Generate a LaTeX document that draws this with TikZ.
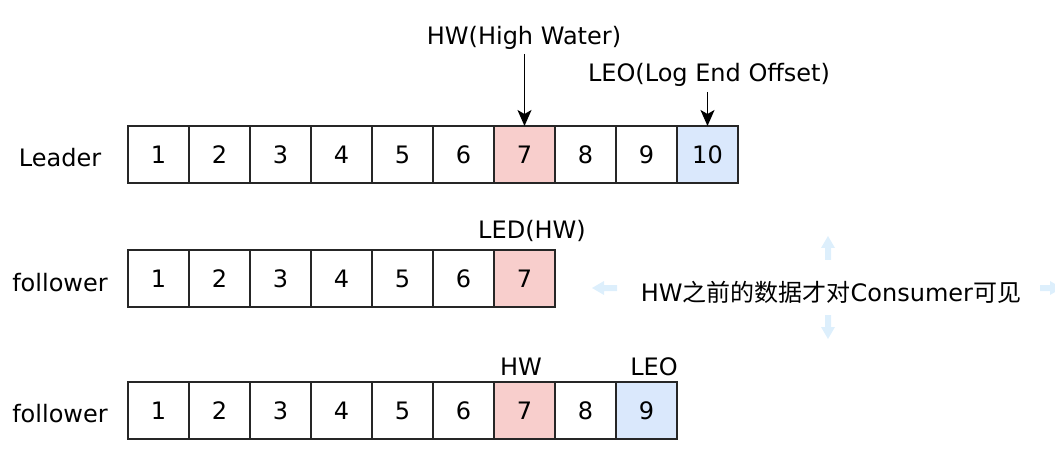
\documentclass[tikz,border=0pt]{standalone}
\usepackage{fontspec}
\setmainfont{DejaVu Sans}
\newfontfamily\cjk{Noto Sans CJK SC}
\usetikzlibrary{arrows.meta}
\definecolor{pinkfill}{HTML}{F8CECC}
\definecolor{bluefill}{HTML}{DAE8FC}
\definecolor{hoverblue}{HTML}{DDEFFC}
\tikzset{
  cell/.style={draw=black!85, line width=1.3pt, minimum width=61pt, minimum height=57pt, inner sep=0pt, outer sep=0pt, font=\fontsize{24}{28}\selectfont, fill=white},
  hwcell/.style={cell, fill=pinkfill},
  leocell/.style={cell, fill=bluefill},
  lbl/.style={inner sep=0pt, font=\fontsize{24}{28}\selectfont},
  ptr/.style={-{Stealth[length=16pt,width=14pt,inset=4pt]}, line width=1.6pt},
  hover/.style={fill=hoverblue, draw=none}
}
\begin{document}
\begin{tikzpicture}[x=1pt,y=-1pt]
\useasboundingbox (0,0) rectangle (1055,457);
% Leader row
\foreach \i/\v in {0/1,1/2,2/3,3/4,4/5,5/6,7/8,8/9}{
  \node[cell] (a\v) at ({158.5+61*\i},154.5) {\v};
}
\node[hwcell] (a7) at ({158.5+61*6},154.5) {7};
\node[leocell] (a10) at ({158.5+61*9},154.5) {10};
\node[lbl] (lleader) at (60,158) {Leader};
% follower 1
\foreach \i/\v in {0/1,1/2,2/3,3/4,4/5,5/6}{
  \node[cell] (b\v) at ({158.5+61*\i},278.5) {\v};
}
\node[hwcell] (b7) at ({158.5+61*6},278.5) {7};
\node[lbl] (lf1) at (60,283) {follower};
% follower 2
\foreach \i/\v in {0/1,1/2,2/3,3/4,4/5,5/6,7/8}{
  \node[cell] (c\v) at ({158.5+61*\i},410.5) {\v};
}
\node[hwcell] (c7) at ({158.5+61*6},410.5) {7};
\node[leocell] (c9) at ({158.5+61*8},410.5) {9};
\node[lbl] (lf2) at (60,414) {follower};
% labels
\node[lbl] (hwtop) at (524,38) {HW(High Water)};
\node[lbl] (leotop) at (709,75) {LEO(Log End Offset)};
\coordinate (hwstart) at ([yshift=72pt]a7.north);
\coordinate (leostart) at ([yshift=34pt]a10.north);
\draw[ptr] (hwstart) -- (a7.north);
\draw[ptr] (leostart) -- (a10.north);
\node[lbl] (led) at (532,231) {LED(HW)};
\node[lbl] (hw3) at (521,367) {HW};
\node[lbl] (leo3) at (654,367) {LEO};
\node[lbl] (note) at (831,292) {HW{\cjk 之前的数据才对}Consumer{\cjk 可见}};
% hover arrows
\fill[hover] (825,260) -- (825,248) -- (821,248) -- (828,236) -- (835,248) -- (831,248) -- (831,260) -- cycle;
\fill[hover] (825,315) -- (825,327) -- (821,327) -- (828,339) -- (835,327) -- (831,327) -- (831,315) -- cycle;
\fill[hover] (617,285) -- (604,285) -- (604,281) -- (592,288) -- (604,295) -- (604,291) -- (617,291) -- cycle;
\fill[hover] (1040,285) -- (1050,285) -- (1050,281) -- (1062,288) -- (1050,295) -- (1050,291) -- (1040,291) -- cycle;
\end{tikzpicture}
\end{document}
